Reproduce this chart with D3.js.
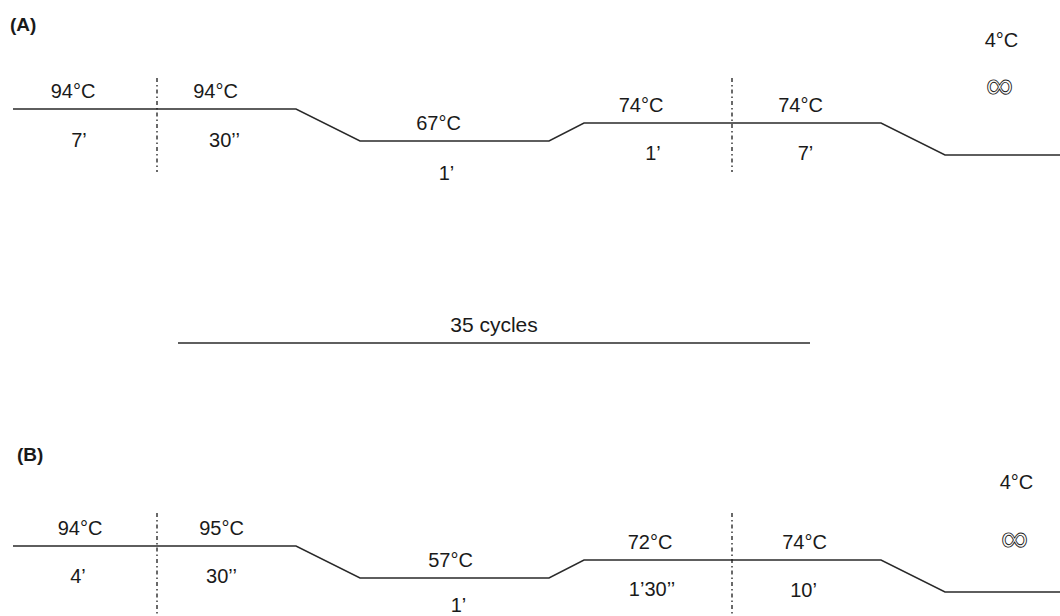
<!DOCTYPE html>
<html>
<head>
<meta charset="utf-8">
<script src="https://cdn.jsdelivr.net/npm/d3@7"></script>
<style>
  html, body { margin: 0; padding: 0; background: #fff; }
  svg { display: block; }
  text { font-family: "Liberation Sans", Arial, sans-serif; fill: #1a1a1a; }
  text.inf { fill: none; stroke: #222; stroke-width: 0.9; }
</style>
</head>
<body>
<svg id="chart" width="1060" height="616"></svg>
<script>
// PCR thermal profiles: (A) and (B)
const phases = ["denature", "extend", "anneal", "hold"];

// Program A
const stepPhaseA = ["denature", "denature", "anneal", "extend", "extend", "hold"];
const tempA = ["94°C", "94°C", "67°C", "74°C", "74°C", "4°C"];
const timeA = ["7’", "30’’", "1’", "1’", "7’", "∞"];

// Program B
const stepPhaseB = ["denature", "denature", "anneal", "extend", "extend", "hold"];
const tempB = ["94°C", "95°C", "57°C", "72°C", "74°C", "4°C"];
const timeB = ["4’", "30’’", "1’", "1’30’’", "10’", "∞"];

const cycleLabel = "35 cycles";
const panelLabels = ["(A)", "(B)"];

// ---- layout ----
const W = 1060, H = 616;
const svg = d3.select("#chart");

// plateau start/end for each of the six steps; ramps join consecutive plateaus
const plateaus = [[13, 157], [157, 296], [360, 549], [584, 732], [732, 881], [945, 1060]];
const dividerSteps = [1, 4]; // cycle boundaries: start of step 1 and of step 4

const yPhase = d3.scaleOrdinal(phases, [0, 14, 32, 46]);

const panels = [
  { label: panelLabels[0], phase: stepPhaseA, temp: tempA, time: timeA,
    base: 109, labelPos: [10, 24], divider: [78, 172],
    tempDx: [-12, -11, -16, -17, -6], timeDx: [-6, -2, -8, -5, -1], timeDy: [31, 31, 32, 30, 30],
    holdDx: -1, holdTempDy: -115, holdInfDy: -70 },
  { label: panelLabels[1], phase: stepPhaseB, temp: tempB, time: timeB,
    base: 546, labelPos: [17, 454], divider: [513, 616],
    tempDx: [-5, -5, -4, -8, -2], timeDx: [-7, -5, 4, -6, -3], timeDy: [30, 30, 27, 29, 30],
    holdDx: 14, holdTempDy: -110, holdInfDy: -54 }
];

const line = d3.line().x(d => d[0]).y(d => d[1]);

panels.forEach(p => {
  const y = ph => p.base + yPhase(ph);
  const g = svg.append("g");

  // profile polyline
  const pts = [];
  p.phase.forEach((ph, i) => {
    pts.push([plateaus[i][0], y(ph)]);
    pts.push([plateaus[i][1], y(ph)]);
  });
  g.append("path")
    .attr("d", line(pts))
    .attr("fill", "none")
    .attr("stroke", "#2a2a2a")
    .attr("stroke-width", 1.5);

  // dash-dot cycle boundaries
  dividerSteps.forEach(s => {
    g.append("line")
      .attr("x1", plateaus[s][0]).attr("x2", plateaus[s][0])
      .attr("y1", p.divider[0]).attr("y2", p.divider[1])
      .attr("stroke", "#1a1a1a")
      .attr("stroke-width", 1.3)
      .attr("stroke-dasharray", "4,3,1.5,3");
  });

  // temperature / duration labels
  p.phase.forEach((ph, i) => {
    const cx = (plateaus[i][0] + plateaus[i][1]) / 2;
    if (ph === "hold") {
      g.append("text").attr("x", cx + p.holdDx).attr("y", y(ph) + p.holdTempDy)
        .attr("dy", "0.35em").attr("text-anchor", "middle")
        .attr("font-size", 20).text(p.temp[i]);
      g.append("text").attr("class", "inf")
        .attr("x", cx + p.holdDx - 2).attr("y", y(ph) + p.holdInfDy)
        .attr("dy", "0.35em").attr("text-anchor", "middle")
        .attr("font-size", 38).text(p.time[i]);
      return;
    }
    g.append("text").attr("x", cx + p.tempDx[i]).attr("y", y(ph) - 18)
      .attr("dy", "0.35em").attr("text-anchor", "middle")
      .attr("font-size", 20).text(p.temp[i]);
    g.append("text").attr("x", cx + p.timeDx[i]).attr("y", y(ph) + p.timeDy[i])
      .attr("dy", "0.35em").attr("text-anchor", "middle")
      .attr("font-size", 20).text(p.time[i]);
  });

  // panel letter
  g.append("text").attr("x", p.labelPos[0]).attr("y", p.labelPos[1])
    .attr("dy", "0.35em").attr("font-size", 19).attr("font-weight", "bold")
    .text(p.label);
});

// cycle-count bar
const cyc = svg.append("g");
cyc.append("line").attr("x1", 178).attr("x2", 810).attr("y1", 343).attr("y2", 343)
  .attr("stroke", "#2a2a2a").attr("stroke-width", 1.5);
cyc.append("text").attr("x", 494).attr("y", 325).attr("dy", "0.35em")
  .attr("text-anchor", "middle").attr("font-size", 21).text(cycleLabel);
</script>
</body>
</html>
